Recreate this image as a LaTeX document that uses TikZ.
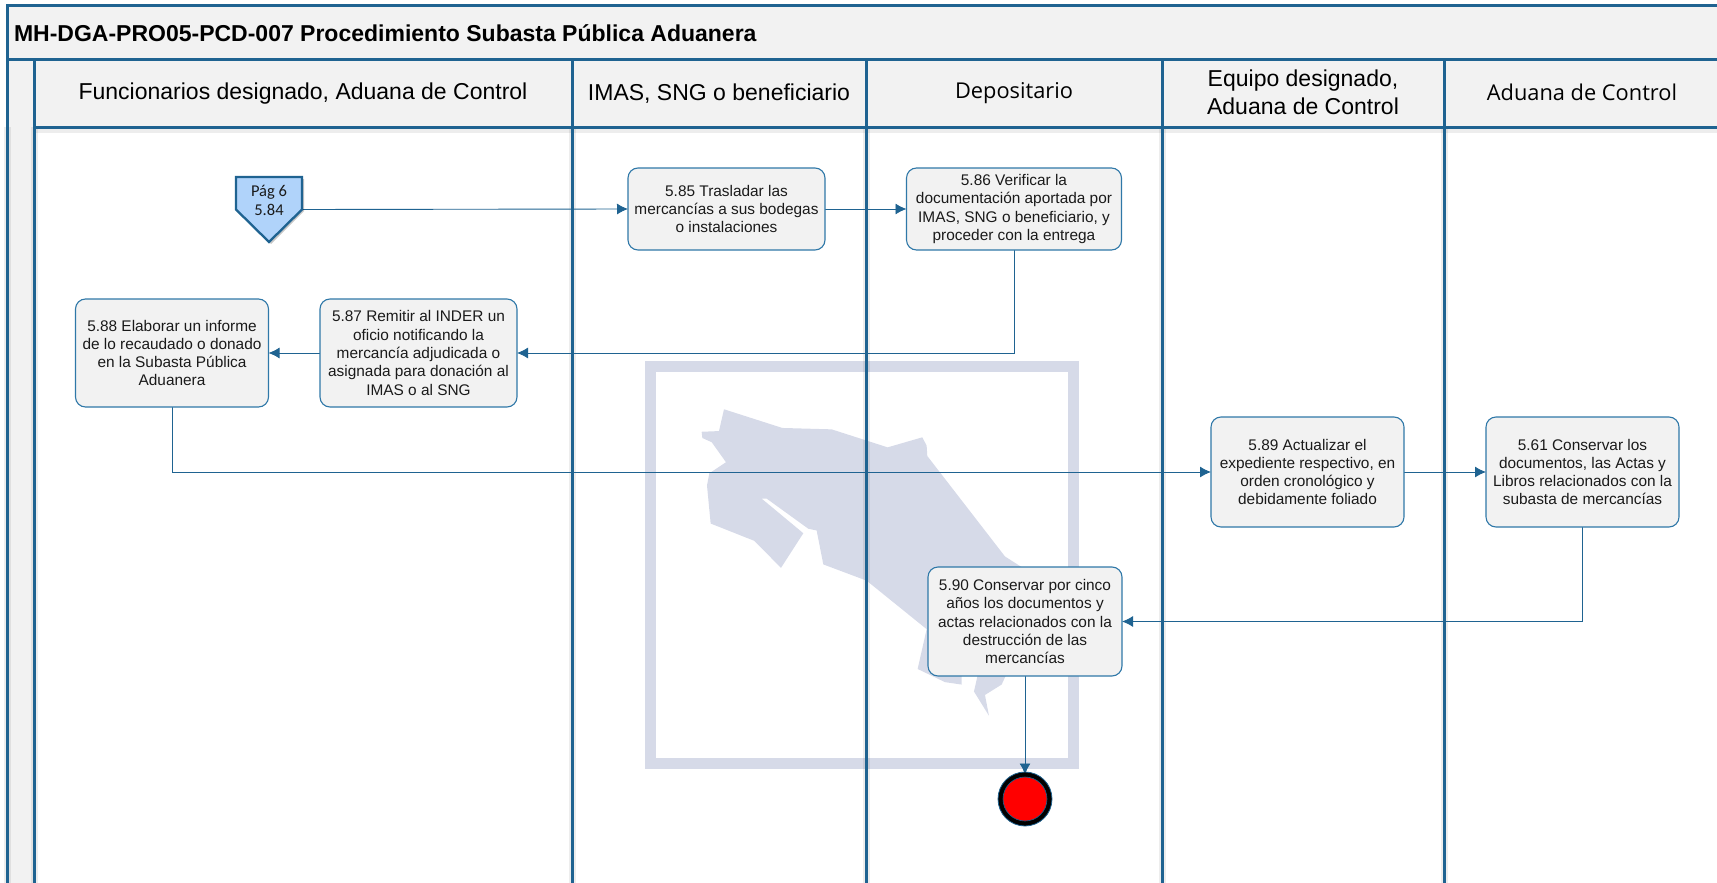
\documentclass[tikz,border=0pt]{standalone}
\usepackage{fontspec}
\setmainfont{Liberation Sans}
\newfontfamily\opensans{Open Sans}
\newfontfamily\carlito{Carlito}
\usetikzlibrary{arrows.meta}
\definecolor{lanecol}{HTML}{1F6391}
\definecolor{boxfill}{HTML}{F2F2F2}
\definecolor{boxline}{HTML}{2F78A8}
\definecolor{water}{HTML}{D6DAE8}
\definecolor{pagfill}{HTML}{B0D3FA}
\definecolor{txt}{HTML}{1A1A1A}
\pgfdeclarelayer{back}
\pgfdeclarelayer{conn}
\pgfdeclarelayer{lanes}
\pgfsetlayers{back,conn,lanes,main}
\tikzset{
  every node/.style={inner sep=0pt,outer sep=0pt,text=txt},
  procbox/.style={draw=boxline,line width=1.1pt,fill=boxfill,rounded corners=10pt,align=center,
    font=\fontsize{15.4}{18.3}\selectfont},
  lanehead/.style={align=center,font=\fontsize{23}{28}\selectfont,text=black},
  laneheadalt/.style={align=center,font=\opensans\fontsize{21.8}{28}\selectfont,text=black},
  laneline/.style={draw=lanecol,line width=3pt},
  laneshade/.style={draw=black,opacity=.07,line width=7pt},
  link/.style={draw=lanecol,line width=.9pt,-{Latex[length=11pt,width=11pt]}},
}
\begin{document}
\begin{tikzpicture}[x=1pt,y=-1pt]
\useasboundingbox (0,0) rectangle (1717,883);

% nodes
\node[font=\bfseries\fontsize{23}{26}\selectfont,anchor=west,text=black] (title) at (14,33)
  {MH-DGA-PRO05-PCD-007 Procedimiento Subasta Pública Aduanera};
\node[lanehead] (h1) at (303,94) {Funcionarios designado, Aduana de Control};
\node[lanehead] (h2) at (719,94) {IMAS, SNG o beneficiario};
\node[laneheadalt] (h3) at (1014,93) {Depositario};
\node[lanehead] (h4) at (1303,92) {Equipo designado,\\Aduana de Control};
\node[laneheadalt] (h5) at (1582,92.5) {Aduana de Control};

\fill[black,opacity=.22] (238,179) -- (304,179) -- (304,211) -- (271,244) -- (238,211) -- cycle;
\draw[draw=lanecol,line width=2.3pt,fill=pagfill,line join=miter]
  (236,177) -- (302,177) -- (302,209.5) -- (269,242) -- (236,209.5) -- cycle;
\node[minimum width=66pt,minimum height=65pt,align=center,
  font=\carlito\fontsize{16.5}{19}\selectfont] (pag) at (269,209.5) {Pág 6\\5.84\\~};

\node[procbox,minimum width=197pt,minimum height=82pt] (n85) at (726.5,209)
  {5.85 Trasladar las\\mercancías a sus bodegas\\o instalaciones};
\node[procbox,minimum width=215pt,minimum height=82pt] (n86) at (1014,209)
  {5.86 Verificar la\\documentación aportada por\\IMAS, SNG o beneficiario, y\\proceder con la entrega};
\node[procbox,minimum width=197pt,minimum height=108pt] (n87) at (418.5,353)
  {5.87 Remitir al INDER un\\oficio notificando la\\mercancía adjudicada o\\asignada para donación al\\IMAS o al SNG};
\node[procbox,minimum width=193pt,minimum height=108pt] (n88) at (172,353)
  {5.88 Elaborar un informe\\de lo recaudado o donado\\en la Subasta Pública\\Aduanera};
\node[procbox,minimum width=193pt,minimum height=110pt] (n89) at (1307.5,472)
  {5.89 Actualizar el\\expediente respectivo, en\\orden cronológico y\\debidamente foliado};
\node[procbox,minimum width=193pt,minimum height=110pt] (n61) at (1582.5,472)
  {5.61 Conservar los\\documentos, las Actas y\\Libros relacionados con la\\subasta de mercancías};
\node[procbox,minimum width=194pt,minimum height=109pt] (n90) at (1025,621.5)
  {5.90 Conservar por cinco\\años los documentos y\\actas relacionados con la\\destrucción de las\\mercancías};
\node[circle,draw=black,line width=5pt,fill=red,minimum size=49pt] (endn) at (1025,799) {};
\draw[draw=lanecol,line width=.8pt] (endn.center) circle (27);
\draw[draw=lanecol,line width=.6pt] (endn.center) circle (22);

% background: fills and watermark
\begin{pgfonlayer}{back}
  \fill[boxfill] (7,5) rectangle (1717,127);
  \fill[boxfill] (7,127) rectangle (34.7,883);
  \draw[water,line width=11pt] (650.5,366.5) rectangle (1073.5,763.5);
  \begin{scope}[shift={(620,340)},x=.3333pt,y=-.3463pt]
    \fill[water] (312,200) -- (487,254) -- (635,258) -- (803,310) -- (907,281) -- (920,305)
      -- (922,335) -- (1155,625) -- (1220,665) -- (1240,800) -- (1145,995) -- (1095,1025)
      -- (1107,1085) -- (1062,1015) -- (1075,960) -- (1025,960) -- (1025,995) -- (975,988)
      -- (893,950) -- (920,835) -- (740,695) -- (610,648) -- (590,550) -- (565,545)
      -- (440,458) -- (425,458) -- (550,558) -- (483,658) -- (403,580) -- (272,530)
      -- (261,420) -- (268,385) -- (318,353) -- (275,295) -- (247,283) -- (245,265)
      -- (297,263) -- cycle;
  \end{scope}
  % soft shadows of the lane lines
  \foreach \xx in {7.3,34.7,572,866,1162,1444.5}{
    \draw[laneshade] (\xx,127) -- (\xx,883);
  }
  \draw[laneshade] (34.7,129) -- (1717,129);
\end{pgfonlayer}

% connectors
\begin{pgfonlayer}{conn}
  \draw[link] (pag.east) -- (n85.west);
  \draw[link] (n85.east) -- (n86.west);
  \draw[link] (n86.south) |- (n87.east);
  \draw[link] (n87.west) -- (n88.east);
  \draw[link] (n88.south) |- (n89.west);
  \draw[link] (n89.east) -- (n61.west);
  \draw[link] (n61.south) |- (n90.east);
  \draw[link] (n90.south) -- (endn.north);
\end{pgfonlayer}

% swimlane frame
\begin{pgfonlayer}{lanes}
  \draw[laneline] (1717,5.3) -- (7.3,5.3) -- (7.3,883);
  \draw[laneline] (7.3,59.3) -- (1717,59.3);
  \draw[laneline] (34.7,127.3) -- (1717,127.3);
  \foreach \xx in {34.7,572,866,1162,1444.5}{
    \draw[laneline] (\xx,59.3) -- (\xx,883);
  }
\end{pgfonlayer}
\end{tikzpicture}
\end{document}
